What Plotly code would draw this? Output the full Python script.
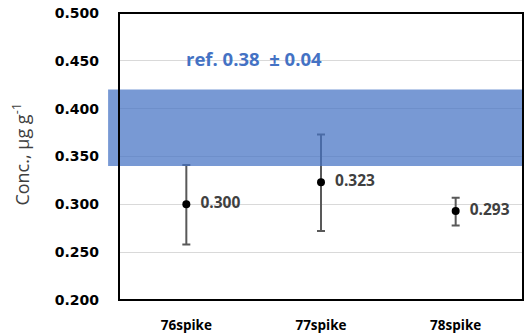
import plotly.graph_objects as go

categories = ["76spike", "77spike", "78spike"]
values = [0.300, 0.323, 0.293]
err_plus = [0.041, 0.050, 0.014]
err_minus = [0.042, 0.051, 0.015]
value_labels = ["0.300", "0.323", "0.293"]
ref_value = 0.38
ref_unc = 0.04
y_ticks = [0.200, 0.250, 0.300, 0.350, 0.400, 0.450, 0.500]

fig = go.Figure()
fig.add_shape(type="rect", xref="paper", yref="y", x0=-0.027, x1=1.0,
              y0=ref_value - ref_unc, y1=ref_value + ref_unc,
              fillcolor="rgba(68,114,196,0.72)", line_width=0, layer="above")
fig.add_shape(type="rect", xref="paper", yref="paper", x0=0, x1=1, y0=0, y1=1,
              line=dict(color="black", width=2), layer="above")
fig.add_trace(go.Scatter(
    x=[0, 1, 2], y=values, mode="markers+text",
    marker=dict(color="black", size=8),
    error_y=dict(type="data", array=err_plus, arrayminus=err_minus,
                 color="#595959", thickness=2, width=4),
    text=["  " + t for t in value_labels], textposition="middle right",
    textfont=dict(family="Open Sans", size=15.5, color="#404040", weight="bold"),
    cliponaxis=False, showlegend=False, hoverinfo="skip"))
fig.add_annotation(x=0.5, y=0.452, xref="x", yref="y",
                   text=f"ref. {ref_value:.2f}  ± {ref_unc:.2f}", showarrow=False,
                   font=dict(family="Open Sans", size=18.5, color="#4472C4", weight="bold"))
fig.add_annotation(x=-0.2426, y=0.51, xref="paper", yref="paper", textangle=-90,
                   xanchor="center", yanchor="middle",
                   text="Conc., µg g<sup>-1</sup>", showarrow=False,
                   font=dict(family="Open Sans", size=18, color="#404040"))
fig.update_layout(
    width=528, height=336, margin=dict(l=119, r=5, t=13, b=36),
    plot_bgcolor="white", paper_bgcolor="white",
    xaxis=dict(range=[-0.5, 2.5], tickvals=[0, 1, 2], ticktext=categories,
               showgrid=False, zeroline=False, showline=False, ticks="",
               automargin=False, ticklabelstandoff=15,
               tickfont=dict(family="Open Sans", size=13.5, color="black", weight="bold")),
    yaxis=dict(range=[0.2, 0.5], tickvals=y_ticks,
               ticktext=[f"{v:.3f}" for v in y_ticks],
               showgrid=True, gridcolor="#d9d9d9", gridwidth=1, zeroline=False,
               showline=False, ticks="", automargin=False,
               ticklabelstandoff=19,
               tickfont=dict(family="DejaVu Sans", size=14, color="black", weight="bold")),
)
fig.write_html("out.html", config={"displayModeBar": False},
               post_script="document.body.style.margin='0';document.body.style.overflow='hidden';")
